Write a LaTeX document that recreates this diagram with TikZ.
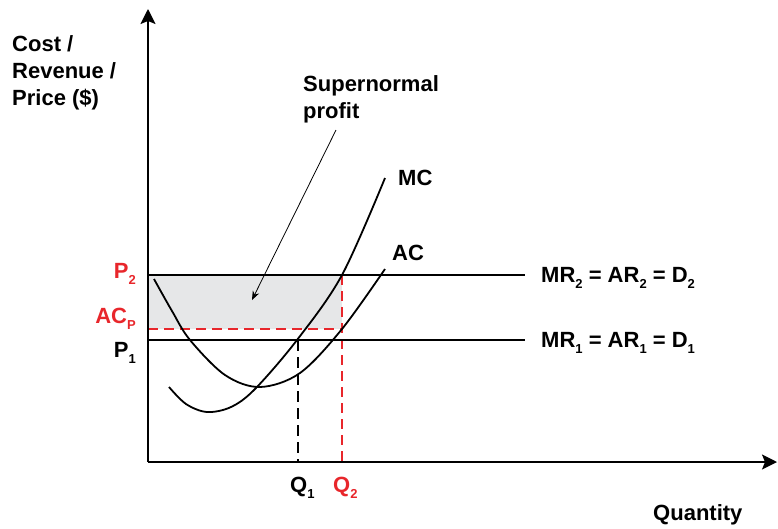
\documentclass[tikz,border=0pt]{standalone}
\usepackage{fontspec}
\setmainfont{Liberation Sans}
\usetikzlibrary{arrows.meta}
\definecolor{redc}{RGB}{232,38,43}
\definecolor{shadec}{RGB}{230,231,232}
\newcommand{\lowsub}[1]{\raisebox{-6pt}{\fontsize{13}{13}\selectfont #1}}
\begin{document}
\begin{tikzpicture}[x=1pt,y=-1pt,
  lbl/.style={font=\fontsize{22}{27}\selectfont\bfseries, inner sep=0pt},
  axis/.style={line width=1.5pt, -{Stealth[length=15pt,width=15pt,inset=3pt]}},
  level/.style={line width=1.5pt},
  curve/.style={line width=1.8pt, smooth, tension=0.55},
  blackdash/.style={line width=1.5pt, dash pattern=on 11pt off 6pt},
  reddash/.style={line width=1.5pt, redc, dash pattern=on 10pt off 6pt},
  pointer/.style={line width=0.8pt, -{Stealth[length=9pt,width=7pt]}}]
\useasboundingbox (0,0) rectangle (778,528);

% coordinates
\coordinate (O) at (148,462);
\coordinate (ytop) at (148,9);
\coordinate (xend) at (777,462);
\coordinate (p2l) at (148,275);
\coordinate (p2r) at (525,275);
\coordinate (p1l) at (148,340);
\coordinate (p1r) at (525,340);
\coordinate (acl) at (148,329);
\coordinate (acr) at (342,329);
\coordinate (q2top) at (342,275);
\coordinate (q2bot) at (342,462);
\coordinate (q1top) at (298,340);
\coordinate (q1bot) at (298,462);
\coordinate (arrS) at (336,130);
\coordinate (arrE) at (252,300);

% shaded profit area
\fill[shadec] (p2l) rectangle (acr);

% dashed guides
\draw[reddash] (acl) -- (acr);
\draw[reddash] (q2top) -- (q2bot);
\draw[blackdash] (q1top) -- (q1bot);

% revenue lines
\draw[level] (p2l) -- (p2r);
\draw[level] (p1l) -- (p1r);

% cost curves
\draw[curve] plot coordinates {(169,387) (186,404) (207,412) (231,407) (255,389) (297,340) (342,275) (385,178)};
\draw[curve] plot coordinates {(154,279) (172,311) (190,340) (225,375) (260,387) (300,373) (342,329) (385,269)};

% axes
\draw[axis] (O) -- (ytop);
\draw[axis] (O) -- (xend);

% pointer
\draw[pointer] (arrS) -- (arrE);

% labels
\node[lbl, anchor=north west, align=left] (ylab) at (12,35) {Cost /\\Revenue /\\Price (\$)};
\node[lbl, anchor=north west, align=left] (snp) at (303,75) {Supernormal\\profit};
\node[lbl, anchor=base west] (mc) at (398,185) {MC};
\node[lbl, anchor=base west] (ac) at (392,260) {AC};
\node[lbl, anchor=base west] (d2) at (541,282) {MR\lowsub{2} = AR\lowsub{2} = D\lowsub{2}};
\node[lbl, anchor=base west] (d1) at (541,347) {MR\lowsub{1} = AR\lowsub{1} = D\lowsub{1}};
\node[lbl, anchor=base east, text=redc] (p2) at (136,278) {P\lowsub{2}};
\node[lbl, anchor=base east, text=redc] (acp) at (136,323) {AC\lowsub{P}};
\node[lbl, anchor=base east] (p1) at (136,357) {P\lowsub{1}};
\node[lbl, anchor=base west] (q1) at (290,492) {Q\lowsub{1}};
\node[lbl, anchor=base west, text=redc] (q2) at (333,492) {Q\lowsub{2}};
\node[lbl, anchor=base west] (qty) at (653,520) {Quantity};
\end{tikzpicture}
\end{document}
